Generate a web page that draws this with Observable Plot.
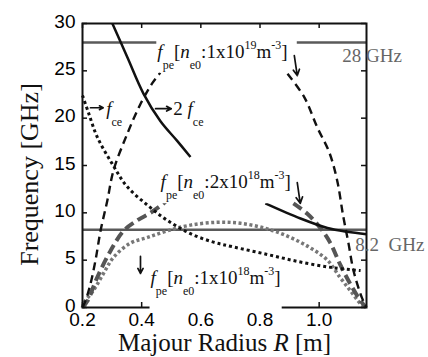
<!DOCTYPE html>
<html><head><meta charset="utf-8">
<script src="https://cdn.jsdelivr.net/npm/d3@7"></script>
<script src="https://cdn.jsdelivr.net/npm/@observablehq/plot@0.6"></script>
<style>body{margin:0;background:#fff}#chart{width:428px;height:357px}</style>
</head><body><div id="chart"></div>
<script>
// ---- tick values ----
const xTicks = [0.2, 0.4, 0.6, 0.8, 1.0];
const yTicks = [0, 5, 10, 15, 20, 25, 30];

// ---- f_pe, n_e0 = 1x10^19 (black dashed), two visible branches ----
const fpe19LeftR  = [0.2, 0.21, 0.227, 0.244, 0.261, 0.284, 0.305, 0.352, 0.396, 0.436, 0.463];
const fpe19LeftF  = [0,   0.7,  2.5,   5.0,   8.1,   11.3,  14.5,  18.4,  21.5,  23.7,  24.8];
const fpe19RightR = [0.893, 0.95, 0.994, 1.034, 1.061, 1.081, 1.099, 1.116, 1.139, 1.153, 1.159];
const fpe19RightF = [24.7,  22.2, 19.0,  16.4,  13.4,  9.7,   6.8,   3.9,   1.5,   0.4,   0];

// ---- f_ce (black dotted) ----
const fceR = [0.2, 0.22, 0.25, 0.3, 0.35, 0.42, 0.487, 0.565, 0.643, 0.71, 0.825, 0.937, 1.048, 1.14];
const fceF = [22.4, 20.6, 18.0, 15.2, 12.8, 10.8, 9.2,  7.8,   6.9,   6.4,  5.6,   4.8,   4.2,   3.9];

// ---- 2 f_ce (black solid), two visible pieces ----
const f2ceLeftR  = [0.301, 0.352, 0.406, 0.463, 0.52, 0.565];
const f2ceLeftF  = [30,    26.4,  22.6,  19.7,  17.6, 15.9];
const f2ceRightR = [0.818, 0.937, 1.028, 1.095, 1.16];
const f2ceRightF = [11.0,  9.4,   8.4,   8.0,   7.75];

// ---- f_pe, n_e0 = 2x10^18 (grey thick dashed) ----
const fpe2e18LeftR  = [0.2, 0.217, 0.25, 0.295, 0.339, 0.385, 0.43, 0.474, 0.487];
const fpe2e18LeftF  = [0,   0.7,   3.2,  6.0,   8.1,   9.2,   10.0, 11.0,  11.4];
const fpe2e18RightR = [0.913, 0.96, 1.004, 1.038, 1.07, 1.105, 1.14, 1.159];
const fpe2e18RightF = [11.0,  9.9,  8.4,   6.8,   4.6,  2.5,   0.7,  0];

// ---- f_pe, n_e0 = 1x10^18 (grey dotted) ----
const fpe1e18R = [0.2, 0.203, 0.237, 0.271, 0.305, 0.362, 0.42, 0.487, 0.565, 0.656, 0.734, 0.825, 0.903, 0.97, 1.028, 1.07, 1.105, 1.14, 1.159];
const fpe1e18F = [0,   0.4,   1.8,   3.6,   5.3,   6.8,   7.4,  8.1,   8.7,   9.0,   8.9,   8.3,   7.4,   6.3,  5.0,   3.2,  1.8,   0.4,  0];

// ---- horizontal reference frequencies ----
const line28 = 28;
const line28Start = [0.2, 0.926];
const line28End   = [0.453, 1.16];
const line82 = 8.2;

// ---- annotation labels ----
const labelText = [
  "*f*_{pe}[*n*_{e0}:1x10^{19}m^{-3}]",
  "*f*_{pe}[*n*_{e0}:2x10^{18}m^{-3}]",
  "*f*_{pe}[*n*_{e0}:1x10^{18}m^{-3}]",
  "*f*_{ce}",
  "2 *f*_{ce}"
];
const labelR = [0.453, 0.464, 0.43, 0.28, 0.507];
const labelF = [26.4, 12.6, 2.5, 20.3, 20.3];

const freqText = ["28 GHz", "8.2\u00a0 GHz"];
const freqR = [1.078, 1.122];
const freqF = [25.9, 6.0];

// ---- annotation arrows (tail -> tip) ----
const arrowR1 = [0.227, 0.447, 0.916, 0.926, 0.396];
const arrowF1 = [21.1, 21.0, 26.6, 13.2, 5.4];
const arrowR2 = [0.27, 0.50, 0.926, 0.936, 0.396];
const arrowF2 = [21.1, 21.0, 24.5, 11.0, 3.6];

const xLabel = "Majour Radius *R* [m]";
const yLabel = "Frequency [GHz]";

const rows = (R, F) => R.map((r, i) => ({R: r, f: F[i]}));
const serif = "'Liberation Serif', 'Times New Roman', serif";

const lineOpts = (o) => Object.assign({x: "R", y: "f", curve: "catmull-rom", strokeLinecap: "butt"}, o);

const plot = Plot.plot({
  width: 428,
  height: 357,
  marginLeft: 82,
  marginRight: 62,
  marginTop: 23,
  marginBottom: 50,
  x: {domain: [0.2, 1.16]},
  y: {domain: [0, 30]},
  style: {fontFamily: "'Liberation Sans', Arial, sans-serif", fontSize: "19px", background: "white", overflow: "visible"},
  marks: [
    Plot.axisX({ticks: xTicks, tickSize: 0, tickPadding: 5, tickFormat: d3.format(".1f"), label: null, fontSize: 19}),
    Plot.axisY({ticks: yTicks, tickSize: 0, tickPadding: 7, dy: -2, label: null, fontSize: 19}),
    // inward ticks
    Plot.ruleX(xTicks, {x: d => d, insetTop: 279, stroke: "#111", strokeWidth: 1.5}),
    Plot.ruleX(xTicks, {x: d => d, insetBottom: 279, stroke: "#111", strokeWidth: 1.5}),
    Plot.ruleY(yTicks, {y: d => d, insetRight: 279, stroke: "#111", strokeWidth: 1.5}),
    Plot.ruleY(yTicks, {y: d => d, insetLeft: 279, stroke: "#111", strokeWidth: 1.5}),
    // reference lines
    Plot.ruleY(line28Start.map((s, i) => ({x1: s, x2: line28End[i], y: line28})), {x1: "x1", x2: "x2", y: "y", stroke: "#5a5a5a", strokeWidth: 2.5}),
    Plot.ruleY([line82], {stroke: "#5a5a5a", strokeWidth: 2.5}),
    // curves
    Plot.line(rows(fpe1e18R, fpe1e18F), lineOpts({stroke: "#777", strokeWidth: 3.5, strokeDasharray: "3,2.5"})),
    Plot.line(rows(fpe2e18LeftR, fpe2e18LeftF), lineOpts({stroke: "#555", strokeWidth: 4, strokeDasharray: "10,5"})),
    Plot.line(rows(fpe2e18RightR, fpe2e18RightF), lineOpts({stroke: "#555", strokeWidth: 4, strokeDasharray: "10,5"})),
    Plot.line(rows(fceR, fceF), lineOpts({stroke: "#111", strokeWidth: 3, strokeDasharray: "3,3"})),
    Plot.line(rows(fpe19LeftR, fpe19LeftF), lineOpts({stroke: "#111", strokeWidth: 2.4, strokeDasharray: "8,5"})),
    Plot.line(rows(fpe19RightR, fpe19RightF), lineOpts({stroke: "#111", strokeWidth: 2.4, strokeDasharray: "8,5"})),
    Plot.line(rows(f2ceLeftR, f2ceLeftF), lineOpts({stroke: "#111", strokeWidth: 2.5})),
    Plot.line(rows(f2ceRightR, f2ceRightF), lineOpts({stroke: "#111", strokeWidth: 2.5})),
    Plot.frame({stroke: "#111", strokeWidth: 2}),
    // texts
    Plot.text(labelText.map((t, i) => ({t, R: labelR[i], f: labelF[i]})), {x: "R", y: "f", text: "t", textAnchor: "start", lineAnchor: "bottom", fontFamily: serif, fontSize: 19, fill: "#111"}),
    Plot.text(freqText.map((t, i) => ({t, R: freqR[i], f: freqF[i]})), {x: "R", y: "f", text: "t", textAnchor: "start", lineAnchor: "bottom", fontFamily: serif, fontSize: 19, fill: "#666"}),
    Plot.text([xLabel], {frameAnchor: "bottom", textAnchor: "middle", dy: 43, lineAnchor: "bottom", fontFamily: serif, fontSize: 25, fill: "#111"}),
    Plot.text([yLabel], {frameAnchor: "left", textAnchor: "middle", lineAnchor: "middle", dx: -53, dy: 9, rotate: -90, fontFamily: serif, fontSize: 26, fill: "#111"}),
    // arrows
    Plot.arrow(arrowR1.map((r, i) => ({x1: r, y1: arrowF1[i], x2: arrowR2[i], y2: arrowF2[i]})), {x1: "x1", y1: "y1", x2: "x2", y2: "y2", stroke: "#111", strokeWidth: 1.7, headLength: 7, headAngle: 55})
  ]
});

document.getElementById("chart").append(plot);

// ---- rich text (italic, sub- and superscripts) ----
const NS = "http://www.w3.org/2000/svg";
const re = /\*([^*]+)\*|_\{([^}]*)\}|\^\{([^}]*)\}|([^*_^]+)/g;
const boxed = [];
plot.querySelectorAll("text").forEach(t => {
  const s = t.textContent;
  if (!/[*_^]/.test(s)) return;
  const fs = parseFloat(getComputedStyle(t).fontSize) || 19;
  if (s.includes("n*_{e0}")) boxed.push({t, low: s.includes("1x10^{18}")});
  while (t.firstChild) t.removeChild(t.firstChild);
  let cur = 0, m;
  re.lastIndex = 0;
  while ((m = re.exec(s))) {
    const span = document.createElementNS(NS, "tspan");
    let target = 0;
    if (m[1] != null) { span.textContent = m[1]; span.setAttribute("font-style", "italic"); }
    else if (m[2] != null) { span.textContent = m[2]; target = Math.round(fs * 0.58); span.setAttribute("font-size", Math.round(fs * 0.63)); }
    else if (m[3] != null) { span.textContent = m[3]; target = -Math.round(fs * 0.47); span.setAttribute("font-size", Math.round(fs * 0.63)); }
    else { span.textContent = m[4]; }
    if (target !== cur) span.setAttribute("dy", target - cur);
    cur = target;
    t.appendChild(span);
  }
});
// white boxes behind the density labels
boxed.forEach(({t, low}) => {
  const b = t.getBBox();
  const r = document.createElementNS(NS, "rect");
  const padB = low ? 14 : 1;
  r.setAttribute("x", b.x - 1);
  r.setAttribute("y", b.y);
  r.setAttribute("width", b.width + 2);
  r.setAttribute("height", b.height + padB);
  r.setAttribute("fill", "white");
  if (t.getAttribute("transform")) r.setAttribute("transform", t.getAttribute("transform"));
  t.parentNode.insertBefore(r, t);
});
</script>
</body></html>
